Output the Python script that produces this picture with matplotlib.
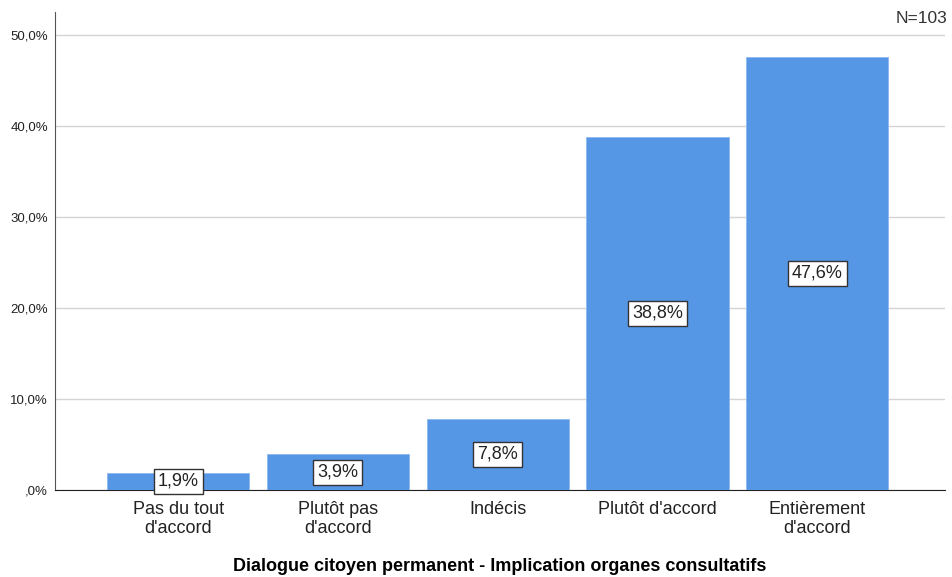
import matplotlib.pyplot as plt

categories = ["Pas du tout\nd'accord", "Plutôt pas\nd'accord", "Indécis", "Plutôt d'accord", "Entièrement\nd'accord"]
values = [1.9, 3.9, 7.8, 38.8, 47.6]
yticks = [0, 10, 20, 30, 40, 50]
ytick_labels = [",0%", "10,0%", "20,0%", "30,0%", "40,0%", "50,0%"]

plt.rcParams['font.family'] = ['Liberation Sans', 'DejaVu Sans']

fig = plt.figure(figsize=(9.52, 5.77), dpi=100)
ax = fig.add_axes([0.0578, 0.1508, 0.935, 0.828])

x = list(range(len(values)))
ax.bar(x, values, width=0.89, color='#5596e5', edgecolor='#8fb8ee', linewidth=0.6, zorder=3)

for xi, v in zip(x, values):
    ax.text(xi, v / 2, f"{v:.1f}%".replace('.', ','), ha='center', va='center', fontsize=13,
            color='#222222', zorder=4,
            bbox=dict(boxstyle='square,pad=0.22', facecolor='white', edgecolor='#333333', linewidth=1))

ax.set_xlim(-0.77, 4.8)
ax.set_ylim(0, 52.5)
ax.set_yticks(yticks)
ax.set_yticklabels(ytick_labels, fontsize=9.5, color='#222222')
ax.set_xticks(x)
ax.set_xticklabels(categories, fontsize=13, color='#222222', linespacing=1.15)
ax.tick_params(axis='both', length=0, pad=5)
ax.tick_params(axis='x', pad=8)
ax.yaxis.grid(True, color='#d4d4d4', linewidth=1, zorder=0)
ax.set_axisbelow(True)

for s in ['top', 'right']:
    ax.spines[s].set_visible(False)
ax.spines['left'].set_color('#555555')
ax.spines['bottom'].set_color('#222222')

ax.set_xlabel('Dialogue citoyen permanent - Implication organes consultatifs', fontsize=13,
              fontweight='bold', labelpad=15)
fig.text(0.995, 0.968, 'N=103', ha='right', va='center', fontsize=12.5, color='#333333')

plt.savefig('out.png', dpi=100)
